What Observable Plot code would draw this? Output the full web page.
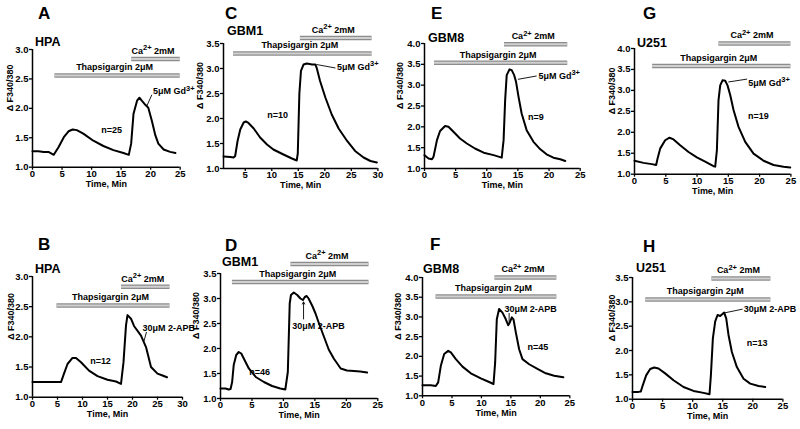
<!DOCTYPE html>
<html><head><meta charset="utf-8">
<script src="https://cdn.jsdelivr.net/npm/d3@7"></script>
<script src="https://cdn.jsdelivr.net/npm/@observablehq/plot@0.6"></script>
<style>
body{margin:0;background:#fff;}
#fig{position:relative;width:800px;height:429px;overflow:hidden;font-family:"Liberation Sans",Arial,sans-serif;background:#fff;}
.lbl{position:absolute;font-weight:bold;line-height:1;white-space:nowrap;color:#000;}
.letter{font-size:17px;}
.cell{font-size:12.5px;}
.panel{position:absolute;}
.panel svg{max-width:none !important;}
</style></head><body><div id="fig"></div>
<script>
// ---- data (time in min, ratio ΔF340/380) ----
const timeA  = [0,1,1.9,2.7,3.6,4.4,5.3,6.1,6.8,7.5,8.6,10.3,12,13.7,15.4,16.3,16.7,17.1,17.7,18.1,18.5,19.1,19.6,20.2,20.8,21.3,22.2,23.3,24.2];
const ratioA = [1.27,1.27,1.26,1.26,1.21,1.34,1.51,1.61,1.64,1.63,1.57,1.45,1.36,1.29,1.24,1.21,1.40,1.91,2.13,2.18,2.13,2.06,2.01,1.79,1.54,1.40,1.30,1.26,1.24];
const timeB  = [0,2,4,5.7,6.3,7,8,8.7,9.7,11.3,13,15,16.7,17.7,18.2,18.7,19,19.7,20.3,21.7,22.7,23.7,25,26,26.9];
const ratioB = [1.25,1.25,1.25,1.25,1.39,1.55,1.65,1.65,1.58,1.44,1.35,1.29,1.26,1.22,1.58,2.19,2.36,2.30,2.18,2.02,1.83,1.50,1.39,1.36,1.33];
const timeC  = [0.9,2.2,2.8,3.1,3.55,4.06,4.7,5.1,5.6,6.6,7.8,9.1,10.3,12.2,13.8,14.7,14.9,15.2,15.5,16,16.6,17.6,18.2,18.5,19.1,20.1,21.3,22.6,24.2,25.7,27.3,28.6,29.8];
const ratioC = [1.24,1.23,1.22,1.25,1.55,1.78,1.92,1.94,1.91,1.80,1.62,1.48,1.38,1.28,1.20,1.16,1.30,2.50,2.95,3.08,3.10,3.08,3.08,3.00,2.75,2.42,2.08,1.80,1.55,1.35,1.22,1.15,1.12];
const timeD  = [0,0.8,1.3,1.6,1.85,2.1,2.5,2.9,3.3,3.7,4.5,5.6,6.9,8.2,9.5,10.3,10.7,11,11.2,11.65,12.2,12.7,13.1,13.4,13.7,14,14.6,15.1,15.6,16.4,17.2,18,19.1,20.1,21.2,22.2,23.3];
const ratioD = [1.2,1.2,1.18,1.19,1.33,1.67,1.87,1.93,1.9,1.8,1.6,1.43,1.33,1.25,1.2,1.18,1.53,2.9,3.07,3.12,3.07,3.0,2.97,3.03,3.05,3.0,2.85,2.7,2.52,2.25,1.98,1.8,1.6,1.56,1.55,1.54,1.52];
const timeE  = [0,0.65,1.2,1.45,2.0,2.5,3.3,3.85,4.65,5.7,6.8,8.1,9.5,11.1,12.4,12.7,12.95,13.2,13.65,14.0,14.4,14.7,15.1,15.6,16.4,17.5,18.6,19.6,20.7,21.8,22.6];
const ratioE = [1.32,1.24,1.22,1.28,1.68,1.9,2.02,2.0,1.88,1.72,1.6,1.48,1.38,1.32,1.26,1.68,2.64,3.24,3.38,3.36,3.24,3.08,2.72,2.32,1.92,1.64,1.46,1.34,1.26,1.22,1.18];
const timeF  = [0,1.41,2.26,2.66,3.11,3.68,4.36,4.81,5.66,6.79,8.2,9.9,11.31,12.05,12.33,12.61,13.0,13.57,14.14,14.54,14.82,15.16,15.44,15.84,16.4,16.97,18.1,19.51,20.93,22.34,23.9];
const ratioF = [1.27,1.27,1.25,1.34,1.76,2.06,2.14,2.1,1.93,1.74,1.57,1.44,1.35,1.3,1.84,2.94,3.2,3.11,2.94,2.79,2.86,2.99,2.94,2.61,2.18,1.93,1.8,1.68,1.57,1.51,1.47];
const timeG  = [0,1.44,2.77,3.46,3.68,4.1,4.9,5.6,6.24,7.3,8.64,9.97,11.3,12.63,12.9,13.17,13.43,13.7,14.07,14.5,14.87,15.3,15.83,16.63,17.7,19.03,20.63,22.23,23.83,24.9];
const ratioG = [1.32,1.27,1.24,1.22,1.37,1.61,1.81,1.87,1.83,1.69,1.53,1.4,1.3,1.19,1.18,1.57,2.77,3.12,3.24,3.23,3.12,2.89,2.53,2.13,1.77,1.49,1.32,1.22,1.18,1.16];
const timeH  = [0,1.0,1.39,1.72,2.27,2.94,3.6,4.32,5.43,6.82,8.48,10.14,11.81,12.8,13.03,13.36,13.75,14.14,14.58,14.86,15.24,15.58,15.96,16.52,17.35,18.46,19.57,20.95,22.06];
const ratioH = [1.15,1.15,1.16,1.29,1.49,1.62,1.65,1.63,1.53,1.39,1.25,1.17,1.13,1.1,1.49,2.25,2.6,2.73,2.71,2.74,2.78,2.66,2.32,1.97,1.66,1.42,1.32,1.27,1.25];

// drug application bars: [start min, end min, level]
const thapsA = [3.8,25,2.56],  caA = [16.8,25,2.84];
const thapsB = [4.9,27.5,2.52], caB = [17.8,27.5,2.83];
const thapsC = [2.8,28.9,3.30], caC = [15.4,28.9,3.61];
const thapsD = [1.9,23.6,3.33], caD = [11.2,23.6,3.69];
const thapsE = [1.6,23,3.54],  caE = [12.85,23,3.98];
const thapsF = [2.3,22.8,3.52], caF = [12.3,22.8,4.0];
const thapsG = [2.9,25,3.58],  caG = [13.5,25,4.12];
const thapsH = [2.2,23,3.05],  caH = [13.2,23,3.48];

const gd = "5μM Gd^{3+}", apb = "30μM 2-APB";
const blkA = {text:gd,  x:20.4, y:2.29, lx1:20.2, ly1:2.23, lx2:19.35, ly2:2.04};
const blkB = {text:apb, x:22.0, y:2.15, lx1:22.8, ly1:2.08, lx2:22.3, ly2:1.93};
const blkC = {text:gd,  x:22.3, y:3.03, lx1:22.0, ly1:3.01, lx2:18.4, ly2:3.08};
const blkD = {text:apb, x:11.4, y:2.45, lx1:13.2, ly1:2.59, lx2:13.2, ly2:2.93, arrow:true};
const blkE = {text:gd,  x:18.3, y:3.22, lx1:18.0, ly1:3.22, lx2:15.0, ly2:3.14};
const blkF = {text:apb, x:13.9, y:3.19, lx1:14.7, ly1:3.10, lx2:14.7, ly2:2.86};
const blkG = {text:gd,  x:18.2, y:3.18, lx1:18.0, ly1:3.27, lx2:15.0, ly2:3.20};
const blkH = {text:apb, x:18.5, y:2.85, lx1:18.3, ly1:2.85, lx2:15.2, ly2:2.77};

const nA = {text:"n=25", x:13.4, y:1.63}, nB = {text:"n=12", x:13.6, y:1.60};
const nC = {text:"n=10", x:11.1, y:2.07}, nD = {text:"n=46", x:6.2, y:1.53};
const nE = {text:"n=9",  x:17.9, y:2.24}, nF = {text:"n=45", x:19.6, y:2.23};
const nG = {text:"n=19", x:19.8, y:2.39}, nH = {text:"n=13", x:20.7, y:2.16};

const ticks25 = [0,5,10,15,20,25], ticks30 = [0,5,10,15,20,25,30], ticksC = [5,10,15,20,25,30];
const yt30 = [1,1.5,2,2.5,3], yt35 = [1,1.5,2,2.5,3,3.5], yt40 = [1,1.5,2,2.5,3,3.5,4];

// ---- layout ----
const panels = [
 {L:"A", cell:"HPA",  t:timeA, r:ratioA, xd:[0,25],   xt:ticks25, yd:[1,3],   yt:yt30, th:thapsA, ca:caA, blk:blkA, n:nA, frame:[32.3,180,49,166.7],   ylx:-22, lp:[38,5],   cp:[35,36.3]},
 {L:"B", cell:"HPA",  t:timeB, r:ratioB, xd:[0,30],   xt:ticks30, yd:[1,3],   yt:yt30, th:thapsB, ca:caB, blk:blkB, n:nB, frame:[31.7,181.7,276,396.7], ylx:-21, lp:[38,236], cp:[35,263.3]},
 {L:"C", cell:"GBM1", t:timeC, r:ratioC, xd:[0.9,30], xt:ticksC,  yd:[1,3.5], yt:yt35, th:thapsC, ca:caC, blk:blkC, n:nC, frame:[223.3,377.7,43.3,168.3], ylx:-23, lp:[225,5],  cp:[227,25.3]},
 {L:"D", cell:"GBM1", t:timeD, r:ratioD, xd:[0,25],   xt:ticks25, yd:[1,3.5], yt:yt35, th:thapsD, ca:caD, blk:blkD, n:nD, frame:[220,377.3,273.3,398.3], ylx:-24, lp:[225,237], cp:[222,255.5]},
 {L:"E", cell:"GBM8", t:timeE, r:ratioE, xd:[0,25],   xt:ticks25, yd:[1,4],   yt:yt40, th:thapsE, ca:caE, blk:blkE, n:nE, frame:[424.3,580,43.3,168.3], ylx:-24, lp:[431,5],  cp:[428,31.6]},
 {L:"F", cell:"GBM8", t:timeF, r:ratioF, xd:[0,25],   xt:ticks25, yd:[1,4],   yt:yt40, th:thapsF, ca:caF, blk:blkF, n:nF, frame:[421.7,569,276.7,395],  ylx:-24, lp:[430,236], cp:[423,263]},
 {L:"G", cell:"U251", t:timeG, r:ratioG, xd:[0,25],   xt:ticks25, yd:[1,4],   yt:yt40, th:thapsG, ca:caG, blk:blkG, n:nG, frame:[634.3,790.7,48.3,174], ylx:-22, lp:[643,5],  cp:[637,36.6]},
 {L:"H", cell:"U251", t:timeH, r:ratioH, xd:[0,25],   xt:ticks25, yd:[1,3.5], yt:yt35, th:thapsH, ca:caH, blk:blkH, n:nH, frame:[632.3,782.7,277.3,399], ylx:-20, lp:[643,238], cp:[636,262]}
];

const NS = "http://www.w3.org/2000/svg";
function richify(svg){
  svg.querySelectorAll("text").forEach(t=>{
    const s = t.textContent;
    if(!s.includes("^{")) return;
    while(t.firstChild) t.removeChild(t.firstChild);
    const re = /\^\{([^}]*)\}/g; let last = 0, m, shift = 0;
    const add = (str, sup) => {
      const ts = document.createElementNS(NS,"tspan");
      ts.textContent = str;
      if(sup){ ts.setAttribute("dy","-3.5"); ts.setAttribute("font-size","7.5"); shift = 3.5; }
      else if(shift){ ts.setAttribute("dy", String(shift)); shift = 0; }
      t.appendChild(ts);
    };
    while((m = re.exec(s))){ if(m.index>last) add(s.slice(last,m.index),false); add(m[1],true); last = re.lastIndex; }
    if(last < s.length) add(s.slice(last),false);
  });
}

const fig = document.getElementById("fig");
for(const p of panels){
  const [fl,fr,ft,fb] = p.frame;
  const mL=45, mR=45, mT=50, mB=35;
  const W = fr-fl+mL+mR, H = fb-ft+mT+mB;
  const bars = [
    {x1:p.th[0], x2:p.th[1], y:p.th[2], label:"Thapsigargin 2μM"},
    {x1:p.ca[0], x2:p.ca[1], y:p.ca[2], label:"Ca^{2+} 2mM"}
  ];
  const trace = p.t.map((t,i)=>({t, r:p.r[i]}));
  const leader = p.blk.arrow
    ? Plot.arrow([p.blk],{x1:"lx1",y1:"ly1",x2:"lx2",y2:"ly2",stroke:"black",strokeWidth:0.9,headLength:4})
    : Plot.link([p.blk],{x1:"lx1",y1:"ly1",x2:"lx2",y2:"ly2",stroke:"black",strokeWidth:0.9});
  const chart = Plot.plot({
    width: W, height: H, marginLeft: mL, marginRight: mR, marginTop: mT, marginBottom: mB,
    style: {background:"transparent", overflow:"visible", maxWidth:"none", fontFamily:"'Liberation Sans', Arial, sans-serif", fontSize:"9px", fontWeight:"bold", color:"black"},
    x: {domain: p.xd}, y: {domain: p.yd},
    marks: [
      Plot.ruleY(bars,{x1:"x1",x2:"x2",y:"y",stroke:"#8c8c8c",strokeWidth:4.5}),
      Plot.ruleY(bars,{x1:"x1",x2:"x2",y:"y",stroke:"#d0d0d0",strokeWidth:2}),
      Plot.text(bars,{x:d=>(d.x1+d.x2)/2, y:"y", text:"label", dy:-8, dx:-3, fill:"black"}),
      Plot.line(trace,{x:"t", y:"r", stroke:"black", strokeWidth:2}),
      Plot.ruleX([p.xd[0]],{stroke:"black", strokeWidth:1.5}),
      Plot.ruleY([p.yd[0]],{stroke:"black", strokeWidth:1.5}),
      Plot.axisX({ticks:p.xt, tickSize:3, tickPadding:0, label:null, tickFormat:d=>String(d), strokeWidth:1.3, fontSize:9.5}),
      Plot.axisY({ticks:p.yt, tickSize:3, tickPadding:1, label:null, tickFormat:d3.format(".1f"), strokeWidth:1.3, fontSize:9.5}),
      Plot.text([p.blk],{x:"x", y:"y", text:"text", textAnchor:"start", fill:"black"}),
      leader,
      Plot.text([p.n],{x:"x", y:"y", text:"text", fill:"black"}),
      Plot.text(["Time, Min"],{frameAnchor:"bottom", dy:20, text:d=>d, fill:"black"}),
      Plot.text(["\u0394 F340/380"],{frameAnchor:"left", rotate:-90, dx:p.ylx, dy:3, text:d=>d, fill:"black"})
    ]
  });
  richify(chart);
  const wrap = document.createElement("div");
  wrap.className = "panel";
  wrap.style.left = (fl-mL)+"px"; wrap.style.top = (ft-mT)+"px";
  wrap.style.width = W+"px"; wrap.style.height = H+"px";
  wrap.appendChild(chart);
  fig.appendChild(wrap);

  const letter = document.createElement("div");
  letter.className = "lbl letter"; letter.textContent = p.L;
  letter.style.left = p.lp[0]+"px"; letter.style.top = p.lp[1]+"px";
  fig.appendChild(letter);
  const cell = document.createElement("div");
  cell.className = "lbl cell"; cell.textContent = p.cell;
  cell.style.left = p.cp[0]+"px"; cell.style.top = p.cp[1]+"px";
  fig.appendChild(cell);
}
</script></body></html>
